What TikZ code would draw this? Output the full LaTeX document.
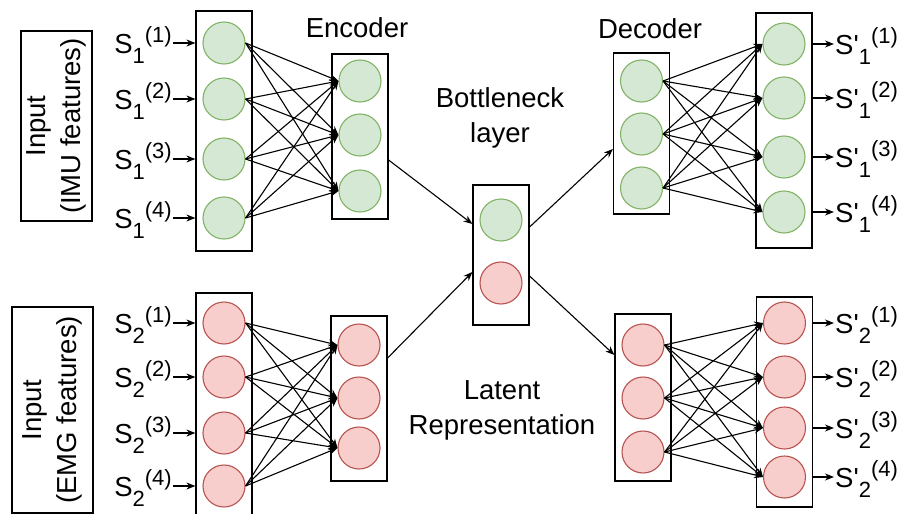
\documentclass[tikz,border=0pt]{standalone}
\usepackage{fontspec}
\newfontfamily\af{Liberation Sans}
\usetikzlibrary{arrows.meta,calc}
\definecolor{gfill}{HTML}{D5E8D4}
\definecolor{gline}{HTML}{82B366}
\definecolor{rfill}{HTML}{F8CECC}
\definecolor{rline}{HTML}{B85450}
\newcommand{\sbt}[1]{\raisebox{-10pt}{\fontsize{22}{22}\selectfont #1}}
\newcommand{\spt}[1]{\raisebox{10.5pt}{\fontsize{22}{22}\selectfont #1}}
\newcommand{\Sl}[2]{S\sbt{#1}\spt{(#2)}}
\newcommand{\Spl}[2]{S'\sbt{#1}\spt{(#2)}}
\begin{document}
\begin{tikzpicture}[x=1pt,y=-1pt,
  box/.style={draw=black,line width=1.2pt,minimum width=56pt,inner sep=0pt},
  gn/.style={circle,draw=gline,fill=gfill,line width=1.1pt,minimum size=42pt,inner sep=0pt},
  rn/.style={circle,draw=rline,fill=rfill,line width=1.1pt,minimum size=42pt,inner sep=0pt},
  txt/.style={font=\af\fontsize{27.5}{35}\selectfont,align=center,inner sep=0pt},
  lab/.style={font=\af\fontsize{27.5}{30}\selectfont,inner sep=1pt},
  arr/.style={-{Stealth[length=9pt,width=7pt]},line width=1.1pt},
]
\useasboundingbox (0,0) rectangle (903,514);
\clip (0,0) rectangle (903,514);
\fill[white] (0,0) rectangle (903,514);

% input label boxes
\node[txt,draw,line width=1.2pt,rotate=90,minimum width=190pt,minimum height=71pt] (inpA) at (56.5,126) {Input\\(IMU features)};
\node[txt,draw,line width=1.2pt,rotate=90,minimum width=206pt,minimum height=81pt] (inpB) at (52.5,410) {Input\\(EMG features)};

% layer boxes
\node[box,minimum height=240pt] (inTop) at (224,131) {};
\node[box,minimum height=165pt] (encTop) at (360,136.5) {};
\node[box,minimum height=140pt] (bott) at (501,255) {};
\node[box,minimum height=161pt] (decTop) at (641.5,133.5) {};
\node[box,minimum height=235pt] (outTop) at (784,130.5) {};
\node[box,minimum height=226pt] (inBot) at (224,406) {};
\node[box,minimum height=165pt] (encBot) at (359,398.5) {};
\node[box,minimum height=167pt] (decBot) at (643,397.5) {};
\node[box,minimum height=210pt] (outBot) at (784.5,402) {};

% neurons
\foreach \y [count=\i] in {43,99,159,218} \node[gn] (iT\i) at (224,\y) {};
\foreach \y [count=\i] in {81,135,191} \node[gn] (eT\i) at (360,\y) {};
\node[gn] (bG) at (501,220) {};
\node[rn] (bR) at (501,283) {};
\foreach \y [count=\i] in {81,134,188} \node[gn] (dT\i) at (641.5,\y) {};
\foreach \y [count=\i] in {44,98,157,212} \node[gn] (oT\i) at (784,\y) {};
\foreach \y [count=\i] in {323,377,433,486} \node[rn] (iB\i) at (224,\y) {};
\foreach \y [count=\i] in {345,398,448} \node[rn] (eB\i) at (359,\y) {};
\foreach \y [count=\i] in {345,398,452} \node[rn] (dB\i) at (643,\y) {};
\foreach \y [count=\i] in {323,377,428,477} \node[rn] (oB\i) at (784.5,\y) {};

% dense connections
\foreach \i in {1,...,4} \foreach \j in {1,2,3} {
  \draw[arr] (iT\i.east) -- (eT\j.west);
  \draw[arr] (iB\i.east) -- (eB\j.west);
  \draw[arr] (dT\j.east) -- (oT\i.west);
  \draw[arr] (dB\j.east) -- (oB\i.west);
}

% box-to-box connections
\draw[arr] ([yshift=-23.5pt]encTop.east) -- ([yshift=31pt]bott.west);
\draw[arr] ([yshift=40.5pt]encBot.east) -- ([yshift=-17pt]bott.west);
\draw[arr] ([yshift=28pt]bott.east) -- ([yshift=-15.5pt]decTop.west);
\draw[arr] ([yshift=-21pt]bott.east) -- ([yshift=42.5pt]decBot.west);

% input labels
\foreach \y [count=\i] in {43,99,159,218} {
  \node[lab,anchor=base east] (sT\i) at (173,\y+10) {\Sl{1}{\i}};
  \draw[arr] (iT\i -| sT\i.east) -- (iT\i -| inTop.west);
}
\foreach \y [count=\i] in {323,377,433,486} {
  \node[lab,anchor=base east] (sB\i) at (173,\y+10) {\Sl{2}{\i}};
  \draw[arr] (iB\i -| sB\i.east) -- (iB\i -| inBot.west);
}
% output labels
\foreach \y [count=\i] in {44,98,157,212} {
  \node[lab,anchor=base west] (pT\i) at (834,\y+10) {\Spl{1}{\i}};
  \draw[arr] (oT\i -| outTop.east) -- (oT\i -| pT\i.west);
}
\foreach \y [count=\i] in {323,377,428,477} {
  \node[lab,anchor=base west] (pB\i) at (834,\y+10) {\Spl{2}{\i}};
  \draw[arr] (oB\i -| outBot.east) -- (oB\i -| pB\i.west);
}

% titles
\node[txt] (encL) at (357,28) {Encoder};
\node[txt] (decL) at (650,29) {Decoder};
\node[txt] (botL) at (500,118) {Bottleneck\\layer};
\node[txt] (latL) at (502,410) {Latent\\Representation};
\end{tikzpicture}
\end{document}
